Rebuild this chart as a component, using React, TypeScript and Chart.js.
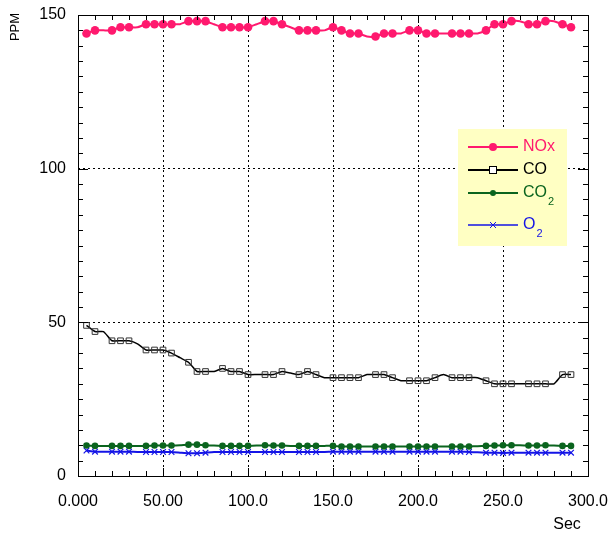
import React, { useEffect, useRef } from "react";
import { Chart, registerables } from "chart.js";

Chart.register(...registerables);

// ---- data ----
const seconds = [
  5, 10, 15, 20, 25, 30, 35, 40, 45, 50, 55, 60, 65, 70, 75, 80, 85, 90, 95, 100,
  105, 110, 115, 120, 125, 130, 135, 140, 145, 150, 155, 160, 165, 170, 175, 180,
  185, 190, 195, 200, 205, 210, 215, 220, 225, 230, 235, 240, 245, 250, 255, 260,
  265, 270, 275, 280, 285, 290,
];
const noxPpm = [
  144, 145, 145, 145, 146, 146, 146, 147, 147, 147, 147, 147, 148, 148, 148, 147, 146, 146, 146, 146,
  147, 148, 148, 147, 146, 145, 145, 145, 145, 146, 145, 144, 144, 143, 143, 144,
  144, 144, 145, 145, 144, 144, 144, 144, 144, 144, 144, 145, 147, 147, 148, 148,
  147, 147, 148, 148, 147, 146,
];
const coPpm = [
  49, 47, 47, 44, 44, 44, 43, 41, 41, 41, 40, 38.5, 37, 34, 34, 34, 35, 34, 34, 33,
  33, 33, 33, 34, 33.5, 33, 34, 33, 32, 32, 32, 32, 32, 33, 33, 33,
  32, 31, 31, 31, 31, 32, 33, 32, 32, 32, 32, 31, 30, 30, 30, 30,
  30, 30, 30, 30, 33, 33,
];
const co2Ppm = [
  9.9, 9.8, 9.8, 9.8, 9.8, 9.8, 9.8, 9.8, 9.9, 9.9, 9.9, 10, 10.2, 10.2, 10, 9.9, 9.8, 9.8, 9.8, 9.8,
  9.9, 10, 9.9, 9.9, 9.8, 9.8, 9.8, 9.8, 9.8, 9.8, 9.6, 9.6, 9.6, 9.6, 9.6, 9.6,
  9.6, 9.6, 9.6, 9.6, 9.6, 9.6, 9.6, 9.6, 9.6, 9.6, 9.7, 9.8, 9.9, 10, 10, 10,
  9.9, 9.9, 10, 9.9, 9.8, 9.8,
];
const o2Ppm = [
  8.3, 7.9, 7.9, 7.9, 7.9, 7.9, 7.8, 7.8, 7.8, 7.8, 7.8, 7.6, 7.4, 7.4, 7.6, 7.8, 7.8, 7.8, 7.8, 7.8,
  7.8, 7.8, 7.8, 7.8, 7.8, 7.8, 7.8, 7.8, 7.8, 7.9, 7.9, 7.9, 7.9, 7.9, 7.9, 7.9,
  7.9, 7.9, 7.9, 7.9, 7.9, 7.9, 7.9, 7.9, 7.9, 7.8, 7.7, 7.6, 7.6, 7.5, 7.6, 7.6,
  7.6, 7.6, 7.6, 7.6, 7.6, 7.6,
];
// samples drawn without a marker
const unmarkedSeconds = [15, 35, 60, 80, 105, 125, 145, 170, 190, 215, 235, 260, 280];

const xMin = 0;
const xMax = 300;
const xMajorStep = 50;
const xMinorStep = 10;
const yMin = 0;
const yMax = 150;
const yMajorStep = 50;
const yMinorStep = 5;

const FONT = "'Liberation Sans', Arial, Helvetica, sans-serif";
const NOX_COLOR = "rgb(255,25,110)";
const CO_COLOR = "#000000";
const CO2_COLOR = "rgb(10,100,30)";
const O2_COLOR = "rgb(20,20,230)";

const legendEntries = [
  { main: "NOx", sub: "", color: NOX_COLOR, style: "circle", r: 4, lw: 2 },
  { main: "CO", sub: "", color: CO_COLOR, style: "rect", r: 3.5, lw: 2 },
  { main: "CO", sub: "2", color: CO2_COLOR, style: "circle", r: 3, lw: 2 },
  { main: "O", sub: "2", color: O2_COLOR, style: "cross", r: 3, lw: 1.5 },
];

function drawMarker(ctx: CanvasRenderingContext2D, style: string, x: number, y: number, r: number, color: string) {
  ctx.save();
  ctx.strokeStyle = color;
  ctx.fillStyle = color;
  ctx.lineWidth = 1;
  ctx.setLineDash([]);
  if (style === "circle") {
    ctx.beginPath();
    ctx.arc(x, y, r, 0, Math.PI * 2);
    ctx.fill();
  } else if (style === "rect") {
    ctx.fillStyle = "#fff";
    ctx.fillRect(x - r, y - r, r * 2, r * 2);
    ctx.strokeRect(x - r, y - r, r * 2, r * 2);
  } else {
    ctx.beginPath();
    ctx.moveTo(x - r, y - r);
    ctx.lineTo(x + r, y + r);
    ctx.moveTo(x + r, y - r);
    ctx.lineTo(x - r, y + r);
    ctx.stroke();
  }
  ctx.restore();
}

const framePlugin = {
  id: "frameAndExtras",
  afterDraw(chart: any) {
    const { ctx, chartArea: a, scales } = chart;
    const xs = scales.x;
    const ys = scales.y;
    ctx.save();
    ctx.setLineDash([]);
    ctx.strokeStyle = "#000";
    ctx.lineWidth = 1;
    // frame
    ctx.strokeRect(Math.round(a.left) + 0.5, Math.round(a.top) + 0.5, Math.round(a.right - a.left), Math.round(a.bottom - a.top));
    // minor / major ticks, inward on all four sides
    ctx.beginPath();
    for (let v = xMin; v <= xMax; v += xMinorStep) {
      const px = Math.round(xs.getPixelForValue(v)) + 0.5;
      const len = v % xMajorStep === 0 ? 8 : 5;
      ctx.moveTo(px, a.bottom);
      ctx.lineTo(px, a.bottom - len);
      ctx.moveTo(px, a.top);
      ctx.lineTo(px, a.top + len);
    }
    for (let v = yMin; v <= yMax; v += yMinorStep) {
      const py = Math.round(ys.getPixelForValue(v)) + 0.5;
      const len = v % yMajorStep === 0 ? 10 : 5;
      ctx.moveTo(a.left, py);
      ctx.lineTo(a.left + len, py);
      ctx.moveTo(a.right, py);
      ctx.lineTo(a.right - len, py);
    }
    ctx.stroke();

    // axis titles
    ctx.fillStyle = "#000";
    ctx.font = `16px ${FONT}`;
    ctx.textAlign = "center";
    ctx.textBaseline = "middle";
    ctx.fillText("Sec", 567, 525);
    ctx.save();
    ctx.translate(15, 27);
    ctx.rotate(-Math.PI / 2);
    ctx.font = `13px ${FONT}`;
    ctx.fillText("PPM", 0, 0);
    ctx.restore();

    // legend
    const bx = 458, by = 129, bw = 109, bh = 117;
    ctx.fillStyle = "rgb(255,255,195)";
    ctx.fillRect(bx, by, bw, bh);
    const rowsY = [147, 170, 193, 225];
    legendEntries.forEach((e, i) => {
      const y = rowsY[i];
      ctx.save();
      ctx.strokeStyle = e.color;
      ctx.lineWidth = e.lw;
      ctx.beginPath();
      ctx.moveTo(468, y);
      ctx.lineTo(518, y);
      ctx.stroke();
      ctx.restore();
      drawMarker(ctx, e.style, 493, y, e.r, e.color);
      ctx.fillStyle = e.color;
      ctx.textAlign = "left";
      ctx.textBaseline = "middle";
      ctx.font = `16px ${FONT}`;
      ctx.fillText(e.main, 523, y);
      if (e.sub) {
        const w = ctx.measureText(e.main).width;
        ctx.font = `11px ${FONT}`;
        ctx.fillText(e.sub, 523 + w + 1, y + 9);
      }
    });
    ctx.restore();
  },
};

export default function App() {
  const ref = useRef<HTMLCanvasElement>(null);
  useEffect(() => {
    const canvas = ref.current;
    if (!canvas) return;
    const radius = (r: number) => (c: any) => (unmarkedSeconds.includes(seconds[c.dataIndex]) ? 0 : r);
    const toXY = (arr: number[]) => arr.map((v, i) => ({ x: seconds[i], y: v }));
    const hidden = "rgba(0,0,0,0)";
    const chart = new Chart(canvas, {
      type: "line",
      data: {
        datasets: [
          {
            label: "NOx",
            data: toXY(noxPpm),
            borderColor: NOX_COLOR,
            backgroundColor: NOX_COLOR,
            borderWidth: 2,
            pointStyle: "circle",
            pointRadius: radius(4.3),
            pointBorderWidth: 0,
            tension: 0.15,
          },
          {
            label: "CO",
            data: toXY(coPpm),
            borderColor: CO_COLOR,
            backgroundColor: "rgba(255,255,255,0)",
            pointBorderColor: "#333",
            borderWidth: 1.5,
            pointStyle: "rect",
            pointRadius: radius(4),
            pointBorderWidth: 1,
            tension: 0.15,
          },
          {
            label: "CO2",
            data: toXY(co2Ppm),
            borderColor: CO2_COLOR,
            backgroundColor: CO2_COLOR,
            borderWidth: 2,
            pointStyle: "circle",
            pointRadius: radius(3.3),
            pointBorderWidth: 0,
            tension: 0.15,
          },
          {
            label: "O2",
            data: toXY(o2Ppm),
            borderColor: O2_COLOR,
            backgroundColor: O2_COLOR,
            borderWidth: 2,
            pointStyle: "crossRot",
            pointRadius: radius(4),
            pointBorderWidth: 1.2,
            tension: 0.15,
          },
        ],
      },
      options: {
        responsive: false,
        animation: false,
        layout: { padding: { top: 15, right: 24, left: 0, bottom: 0 } },
        plugins: { legend: { display: false }, tooltip: { enabled: false } },
        scales: {
          x: {
            type: "linear",
            min: xMin,
            max: xMax,
            afterFit: (s: any) => {
              s.height = 57;
              s.paddingLeft = 0;
              s.paddingRight = 0;
              s.paddingTop = 0;
              s.paddingBottom = 0;
            },
            ticks: {
              stepSize: xMajorStep,
              color: "#000",
              padding: 16,
              maxRotation: 0,
              font: { family: FONT, size: 16 },
              callback: (v: any) => Number(v).toPrecision(4),
            },
            grid: {
              drawTicks: false,
              lineWidth: 1,
              color: (c: any) =>
                c.tick && (c.tick.value === xMin || c.tick.value === xMax) ? hidden : "#000",
            },
            border: { display: false, dash: [2, 3] },
          },
          y: {
            type: "linear",
            min: yMin,
            max: yMax,
            afterFit: (s: any) => {
              s.width = 78;
              s.paddingLeft = 0;
              s.paddingRight = 0;
              s.paddingTop = 0;
              s.paddingBottom = 0;
            },
            ticks: {
              stepSize: yMajorStep,
              color: "#000",
              padding: 12,
              font: { family: FONT, size: 16 },
            },
            grid: {
              drawTicks: false,
              lineWidth: 1,
              color: (c: any) =>
                c.tick && (c.tick.value === yMin || c.tick.value === yMax) ? hidden : "#000",
            },
            border: { display: false, dash: [2, 3] },
          },
        },
      },
      plugins: [framePlugin],
    } as any);
    return () => chart.destroy();
  }, []);
  return (
    <div style={{ position: "absolute", left: 0, top: 0, width: 612, height: 533, background: "#fff" }}>
      <canvas ref={ref} width={612} height={533} style={{ display: "block" }} />
    </div>
  );
}
